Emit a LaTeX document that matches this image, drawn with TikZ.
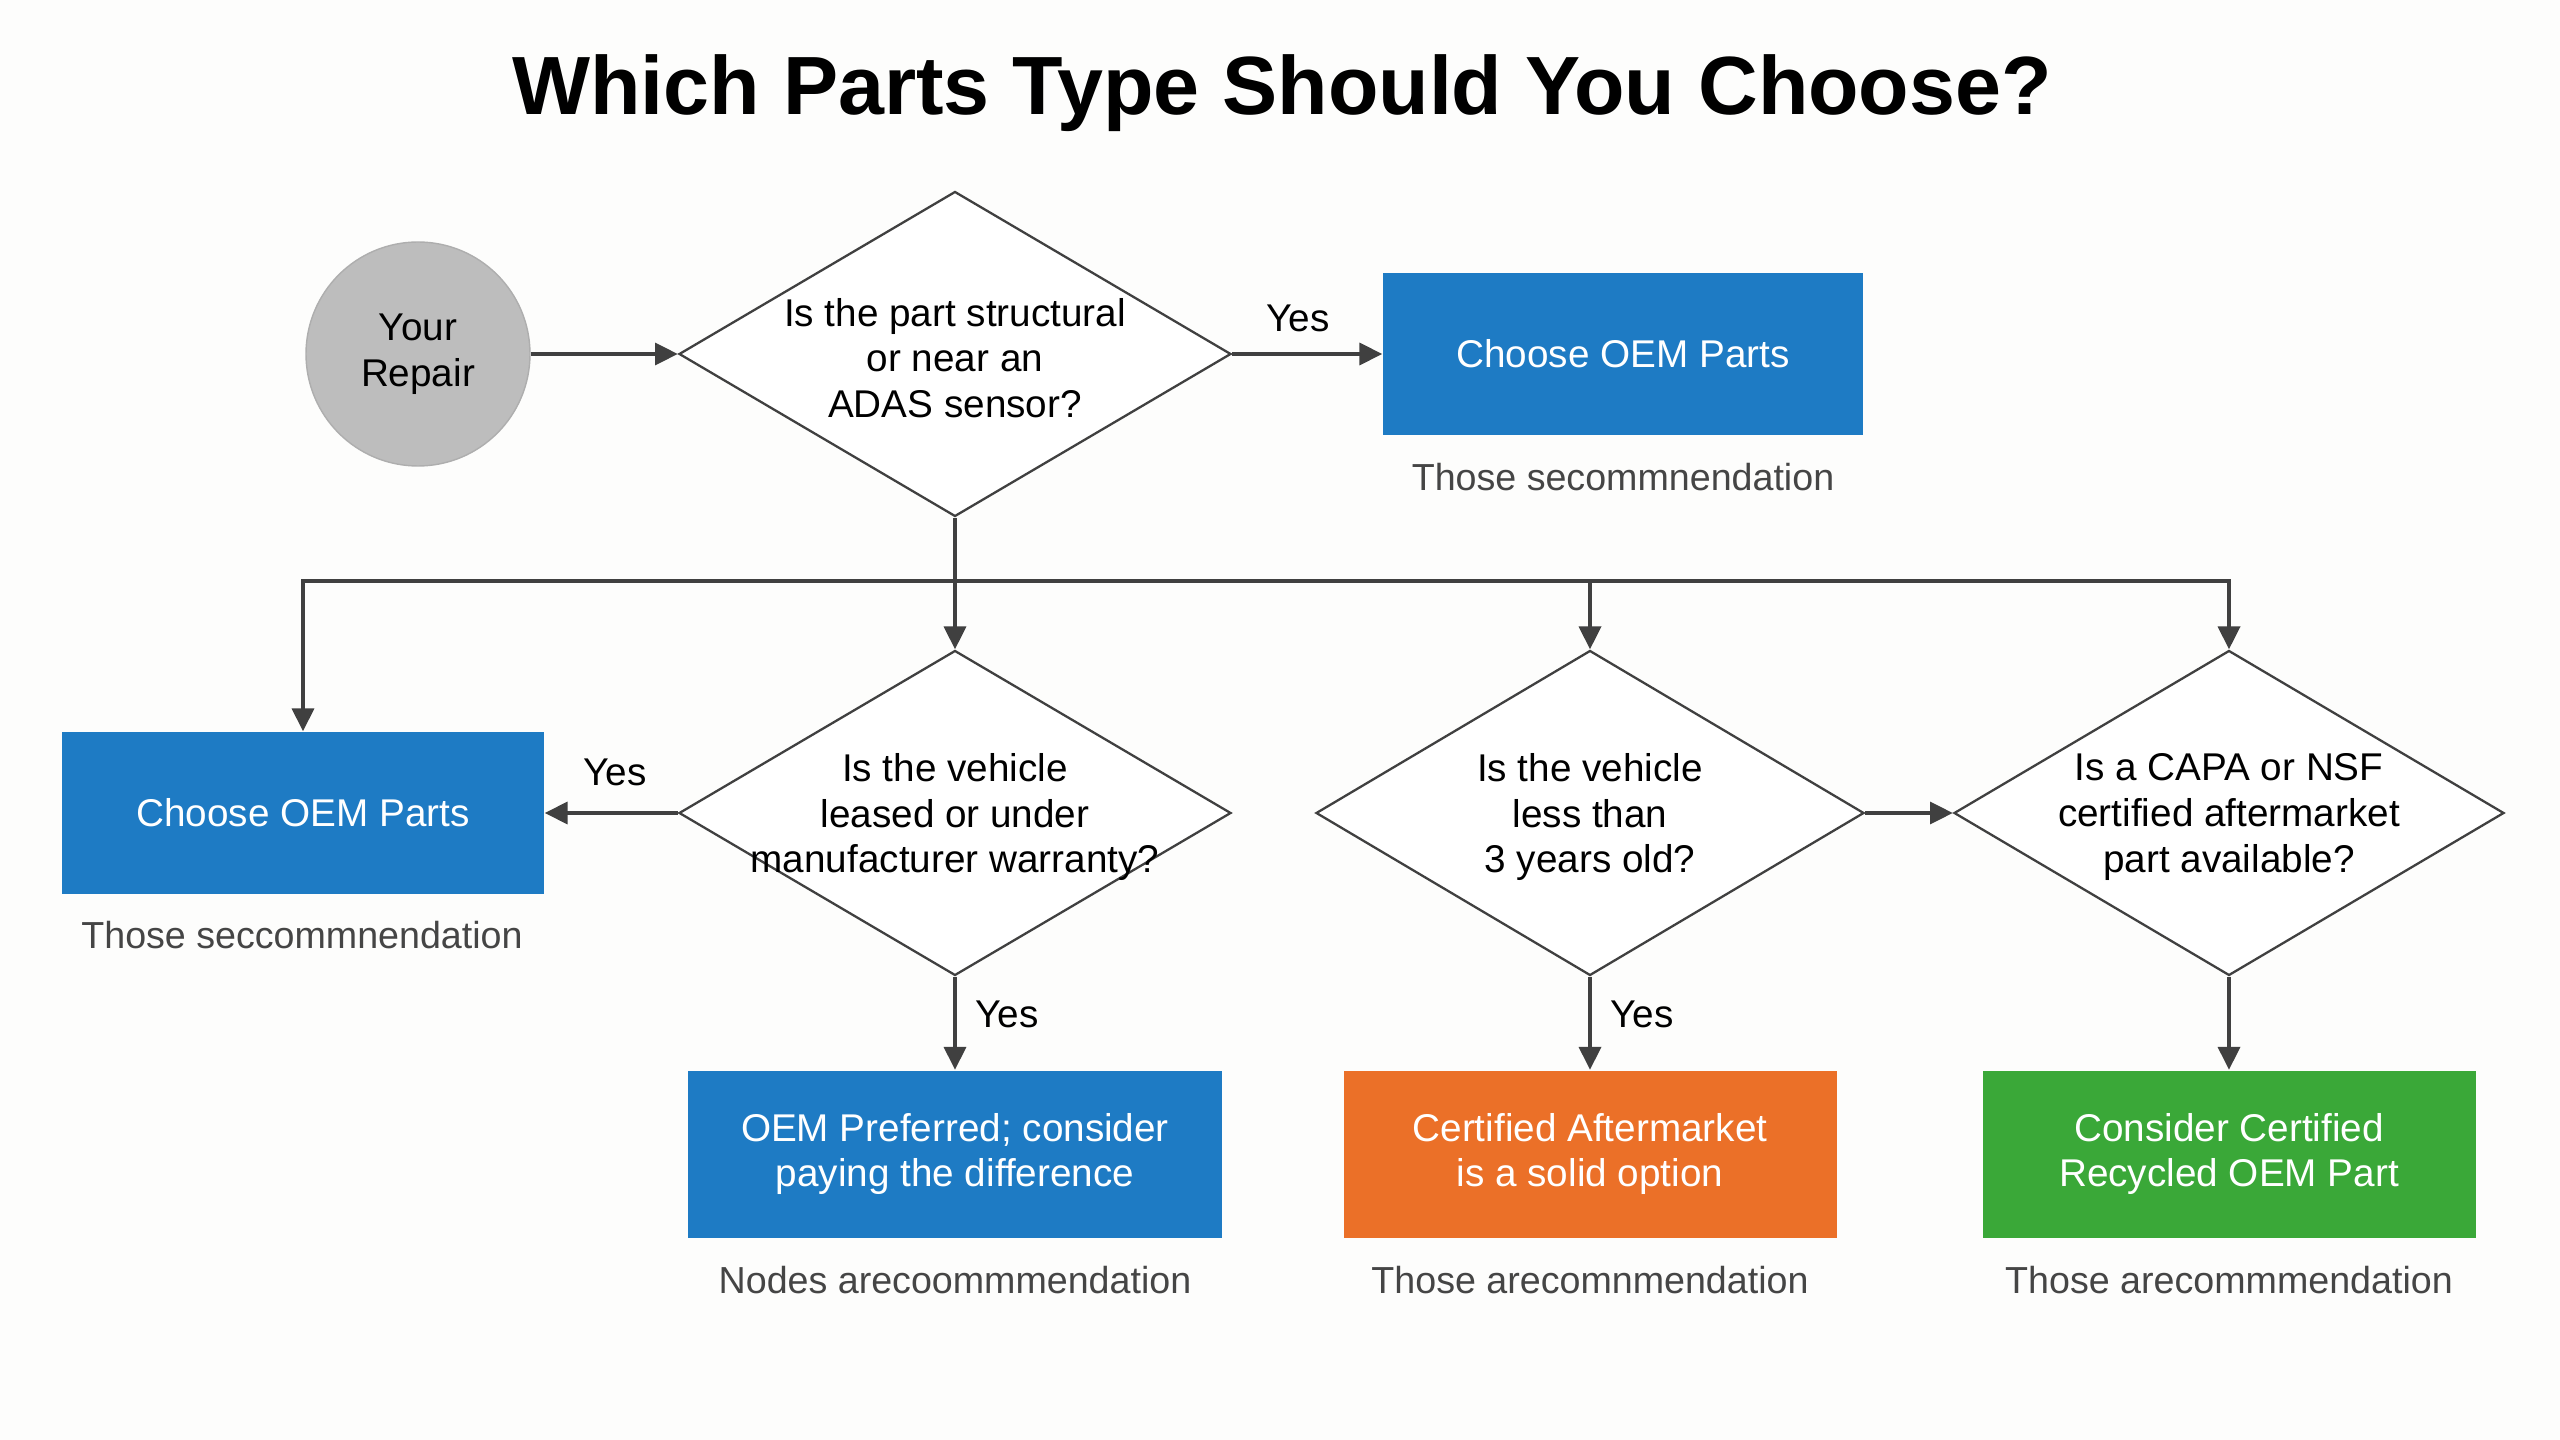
\documentclass[tikz,border=0pt]{standalone}
\usepackage{fontspec}
\setmainfont{Liberation Sans}
\usetikzlibrary{shapes.geometric,arrows.meta}
\definecolor{bgc}{HTML}{FDFDFC}
\definecolor{oemblue}{HTML}{1E7BC4}
\definecolor{aftorange}{HTML}{EB7028}
\definecolor{recgreen}{HTML}{3AA838}
\definecolor{linec}{HTML}{404040}
\definecolor{capc}{HTML}{454545}
\definecolor{circc}{HTML}{BDBDBD}
\newlength{\pxu}
\setlength{\pxu}{0.01cm}
\tikzset{
  conn/.style={draw=linec, line width=1.15pt, -{Triangle[length=6.5pt,width=6.2pt]}},
  decide/.style={diamond, draw=linec, line width=0.65pt, fill=white, inner sep=0pt, minimum width=552\pxu, minimum height=325\pxu},
  dtext/.style={align=center, font=\fontsize{11}{13}\selectfont, text=black, yshift=-0.04cm},
  result/.style={rectangle, inner sep=0pt, minimum height=162\pxu, align=center, text=white, font=\fontsize{11}{13}\selectfont},
  capt/.style={text=capc, font=\fontsize{10.7}{13}\selectfont},
  yeslab/.style={text=black, font=\fontsize{11}{13}\selectfont},
}
\begin{document}
\begin{tikzpicture}[x=0.01cm, y=-0.01cm]
\fill[bgc] (0,0) rectangle (2560,1440);
\useasboundingbox (0,0) rectangle (2560,1440);

\node[font=\fontsize{23.5}{28}\selectfont\bfseries] (title) at (1282,93) {Which Parts Type Should You Choose?};

\node[circle, fill=circc, draw=circc!92!black, line width=0.4pt, minimum size=224\pxu, inner sep=0pt, align=center, font=\fontsize{11}{13}\selectfont] (start) at (418,354) {Your\\Repair};

\node[decide] (d1) at (955,354) {};
\node[dtext] (d1t) at (d1.center) {Is the part structural\\or near an\\ADAS sensor?};

\node[result, fill=oemblue, minimum width=480\pxu] (b1) at (1623,354) {Choose OEM Parts};
\node[capt] (cap1) at (1623,477) {Those secommnendation};

\node[decide] (d2) at (955,813) {};
\node[dtext] (d2t) at (d2.center) {Is the vehicle\\leased or under\\manufacturer warranty?};

\node[decide, minimum width=548\pxu] (d3) at (1590,813) {};
\node[dtext] (d3t) at (d3.center) {Is the vehicle\\less than\\3 years old?};

\node[decide, minimum width=550\pxu] (d4) at (2229,813) {};
\node[dtext] (d4t) at (d4.center) {Is a CAPA or NSF\\certified aftermarket\\part available?};

\node[result, fill=oemblue, minimum width=482\pxu] (b2) at (303,813) {Choose OEM Parts};
\node[capt] (cap2) at (302,935) {Those seccommnendation};

\node[result, fill=oemblue, minimum width=534\pxu, minimum height=167\pxu] (b3) at (955,1154) {OEM Preferred; consider\\paying the difference};
\node[capt] (cap3) at (955,1280) {Nodes arecoommmendation};

\node[result, fill=aftorange, minimum width=493\pxu, minimum height=167\pxu] (b4) at (1590,1154) {Certified Aftermarket\\is a solid option};
\node[capt] (cap4) at (1590,1280) {Those arecomnmendation};

\node[result, fill=recgreen, minimum width=493\pxu, minimum height=167\pxu] (b5) at (2229,1154) {Consider Certified\\Recycled OEM Part};
\node[capt] (cap5) at (2229,1280) {Those arecommmendation};

\coordinate (bus) at (955,581);

\draw[conn] (start.east) -- (d1.west);
\draw[conn] (d1.east) -- (b1.west);
\node[yeslab] (y1) at (1298,318) {Yes};

\draw[conn] (d1.south) -- (d2.north);
\draw[conn] (bus) -| (b2.north);
\draw[conn] (bus) -| (d3.north);
\draw[conn] (bus) -| (d4.north);

\draw[conn] (d2.west) -- (b2.east);
\node[yeslab] (y2) at (615,772) {Yes};

\draw[conn] (d2.south) -- (b3.north);
\node[yeslab] (y3) at (1007,1014) {Yes};

\draw[conn] (d3.east) -- (d4.west);

\draw[conn] (d3.south) -- (b4.north);
\node[yeslab] (y4) at (1642,1014) {Yes};

\draw[conn] (d4.south) -- (b5.north);
\end{tikzpicture}
\end{document}
